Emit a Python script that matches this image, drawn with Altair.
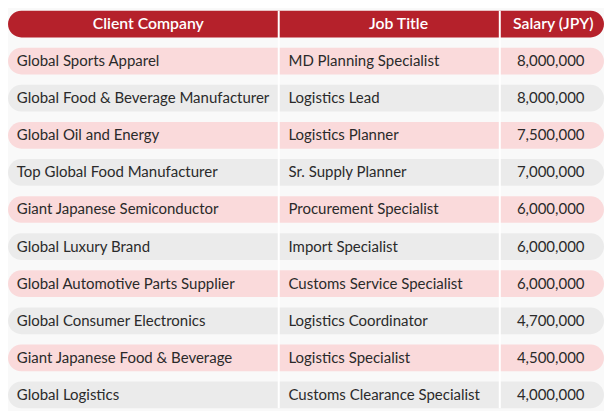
import altair as alt
import pandas as pd

# ---- data ----
headers = ["Client Company", "Job Title", "Salary (JPY)"]
companies = [
    "Global Sports Apparel",
    "Global Food & Beverage Manufacturer",
    "Global Oil and Energy",
    "Top Global Food Manufacturer",
    "Giant Japanese Semiconductor",
    "Global Luxury Brand",
    "Global Automotive Parts Supplier",
    "Global Consumer Electronics",
    "Giant Japanese Food & Beverage",
    "Global Logistics",
]
titles = [
    "MD Planning Specialist",
    "Logistics Lead",
    "Logistics Planner",
    "Sr. Supply Planner",
    "Procurement Specialist",
    "Import Specialist",
    "Customs Service Specialist",
    "Logistics Coordinator",
    "Logistics Specialist",
    "Customs Clearance Specialist",
]
salaries = [8000000, 8000000, 7500000, 7000000, 6000000,
            6000000, 6000000, 4700000, 4500000, 4000000]

# ---- layout (reference pixel units) ----
REF_W = 612
COL_EDGES = [0, 278, 505, 612]
HEADER_X = [144, 401, 560]
TEXT_PAD = 9
W, H = 604, 403

RED = "#b5212b"
PINK = "#fadadb"
GRAY = "#ebebeb"
BG = "#f9f9f9"
FONT = "Lato"

row_keys = ["header"] + [f"r{i}" for i in range(len(companies))]

bars = pd.DataFrame({
    "row": row_keys,
    "kind": ["header"] + ["pink" if i % 2 == 0 else "gray" for i in range(len(companies))],
    "x0": [COL_EDGES[0]] * len(row_keys),
    "x1": [COL_EDGES[-1]] * len(row_keys),
})
body = pd.DataFrame({
    "row": row_keys[1:],
    "company": companies,
    "title": titles,
    "salary": salaries,
    "xc": [COL_EDGES[0] + TEXT_PAD] * len(companies),
    "xt": [COL_EDGES[1] + TEXT_PAD + 1] * len(companies),
    "xs": [COL_EDGES[3] - 20] * len(companies),
})
head = pd.DataFrame({"row": ["header"] * 3, "label": headers, "x": HEADER_X})
divs = pd.DataFrame({"x": COL_EDGES[1:3]})

xs = alt.Scale(domain=[0, REF_W], range=[0, W], nice=False, zero=False)
ys = alt.Scale(domain=row_keys, paddingInner=0.28, paddingOuter=0)
Y = alt.Y("row:N", scale=ys, axis=None, sort=row_keys)

band_px = H / (len(row_keys) - 0.28)
radius = band_px * (1 - 0.28) / 2

bar_layer = alt.Chart(bars).mark_bar(cornerRadius=radius).encode(
    x=alt.X("x0:Q", scale=xs, axis=None),
    x2="x1:Q",
    y=Y,
    color=alt.Color("kind:N", scale=alt.Scale(domain=["header", "pink", "gray"],
                                              range=[RED, PINK, GRAY]), legend=None),
)

div_layer = alt.Chart(divs).mark_rule(color="white", strokeWidth=2).encode(
    x=alt.X("x:Q", scale=xs, axis=None),
)

head_layer = alt.Chart(head).mark_text(
    font=FONT, fontSize=16, fontWeight=600, color="white", align="center", baseline="middle"
).encode(x=alt.X("x:Q", scale=xs), y=Y, text="label:N")

comp_layer = alt.Chart(body).mark_text(
    font=FONT, fontSize=15.2, color="#2a2a2a", align="left", baseline="middle"
).encode(x=alt.X("xc:Q", scale=xs), y=Y, text="company:N")

title_layer = alt.Chart(body).mark_text(
    font=FONT, fontSize=15.2, color="#2a2a2a", align="left", baseline="middle"
).encode(x=alt.X("xt:Q", scale=xs), y=Y, text="title:N")

sal_layer = alt.Chart(body).mark_text(
    font=FONT, fontSize=15.2, color="#2a2a2a", align="right", baseline="middle"
).encode(x=alt.X("xs:Q", scale=xs), y=Y, text=alt.Text("salary:Q", format=",d"))

chart = alt.layer(
    bar_layer, div_layer, head_layer, comp_layer, title_layer, sal_layer
).properties(
    width=W, height=H, padding=0, background=BG, autosize="none"
).configure_view(stroke=None)

chart.save("out.html", embed_options={"renderer": "svg", "actions": False})
